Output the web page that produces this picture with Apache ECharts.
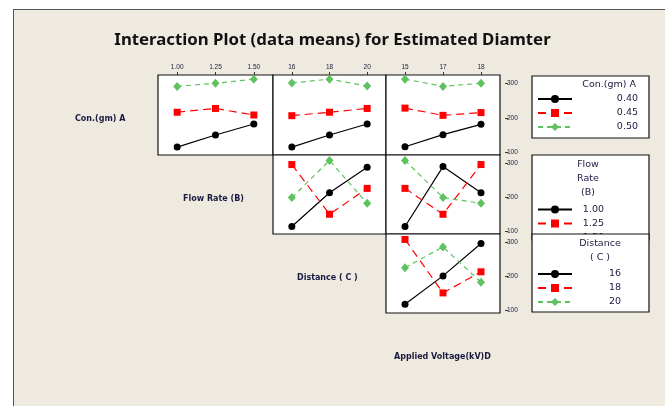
<!DOCTYPE html>
<html>
<head>
<meta charset="utf-8">
<script src="https://cdn.jsdelivr.net/npm/echarts@6/dist/echarts.min.js"></script>
<style>
html,body{margin:0;padding:0;background:#fff;width:665px;height:406px;overflow:hidden;}
#frame{position:absolute;left:13px;top:9px;width:700px;height:450px;background:#EEEAE0;border:1.5px solid #555;}
#chart{position:absolute;left:0;top:0;width:665px;height:406px;}
</style>
</head>
<body>
<div id="frame"></div>
<div id="chart"></div>
<script>
// Factor levels (x-axis categories)
const levelsB = ['1.00', '1.25', '1.50'];
const levelsC = ['16', '18', '20'];
const levelsD = ['15', '17', '18'];
// Trace (legend) names
const namesA = ['0.40', '0.45', '0.50'];
const namesB = ['1.00', '1.25', '1.50'];
const namesC = ['16', '18', '20'];
const yTicks = [100, 200, 300];

// Means: A x B
const ab_040 = [116, 151, 183];
const ab_045 = [217, 228, 209];
const ab_050 = [292, 301, 313];
// A x C
const ac_040 = [116, 151, 183];
const ac_045 = [207, 217, 228];
const ac_050 = [302, 313, 293];
// A x D
const ad_040 = [117, 152, 182];
const ad_045 = [229, 208, 216];
const ad_050 = [313, 292, 301];
// B x C
const bc_100 = [115, 214, 289];
const bc_125 = [297, 151, 227];
const bc_150 = [200, 309, 183];
// B x D
const bd_100 = [115, 291, 214];
const bd_125 = [227, 151, 297];
const bd_150 = [309, 200, 183];
// C x D
const cd_16 = [119, 202, 297];
const cd_18 = [309, 152, 214];
const cd_20 = [226, 287, 183];

const TXT = '#1a1a40';
const styles = [
  {color: '#000000', type: 'solid', symbol: 'circle', size: 7},
  {color: '#ff0000', type: [8, 5], symbol: 'rect', size: 7},
  {color: '#5EC25E', type: [5, 4], symbol: 'diamond', size: [8, 9]}
];

// panels: grid rect, x levels, traces, names, show top labels, show right labels
const panels = [
  {l: 158, t: 75, w: 115, h: 80, x: levelsB, d: [ab_040, ab_045, ab_050], n: namesA, top: true, right: false},
  {l: 273, t: 75, w: 113, h: 80, x: levelsC, d: [ac_040, ac_045, ac_050], n: namesA, top: true, right: false},
  {l: 386, t: 75, w: 114, h: 80, x: levelsD, d: [ad_040, ad_045, ad_050], n: namesA, top: true, right: true},
  {l: 273, t: 155, w: 113, h: 79, x: levelsC, d: [bc_100, bc_125, bc_150], n: namesB, top: false, right: false},
  {l: 386, t: 155, w: 114, h: 79, x: levelsD, d: [bd_100, bd_125, bd_150], n: namesB, top: false, right: true},
  {l: 386, t: 234, w: 114, h: 79, x: levelsD, d: [cd_16, cd_18, cd_20], n: namesC, top: false, right: true}
];

const grid = [], xAxis = [], yAxis = [], series = [];
panels.forEach((p, i) => {
  grid.push({left: p.l, top: p.t, width: p.w, height: p.h, show: true, backgroundColor: '#ffffff', borderColor: '#111', borderWidth: 1.2});
  xAxis.push({
    gridIndex: i, type: 'category', data: p.x, boundaryGap: true, position: 'top',
    axisLine: {show: false},
    axisTick: {show: p.top, alignWithLabel: true, length: 3, lineStyle: {color: '#333'}},
    axisLabel: {show: p.top, margin: 4, fontSize: 6.5, fontFamily: 'Liberation Sans', color: TXT}
  });
  yAxis.push({
    gridIndex: i, type: 'value', min: 93, max: 325, position: 'right', offset: 5,
    splitLine: {show: false},
    axisLine: {show: false},
    axisTick: {show: p.right, length: 3, customValues: yTicks, lineStyle: {color: '#333'}},
    axisLabel: {show: p.right, customValues: yTicks, margin: 2, fontSize: 6.5, fontFamily: 'Liberation Sans', color: TXT}
  });
  p.d.forEach((vals, k) => {
    const s = styles[k];
    series.push({
      type: 'line', name: p.n[k], xAxisIndex: i, yAxisIndex: i, data: vals,
      symbol: s.symbol, symbolSize: s.size, showSymbol: true,
      lineStyle: {color: s.color, width: 1.2, type: s.type},
      itemStyle: {color: s.color},
      emphasis: {disabled: true}, animation: false, z: 3 + k
    });
  });
});

function mkLegend(names, top, w, align, z) {
  return {
    data: names, orient: 'vertical', left: 537, top: top, padding: 0,
    itemWidth: 34, itemHeight: 10, itemGap: 4, selectedMode: false, z: z,
    formatter: n => '{v|' + n + '}',
    textStyle: {
      fontFamily: 'DejaVu Sans', fontSize: 9.5, color: TXT,
      rich: {v: {width: w, align: align, fontSize: 9.5, fontFamily: 'DejaVu Sans', color: TXT, lineHeight: 10}}
    }
  };
}

const legendTxt = (x, y, text, align, z) => ({
  type: 'text', x: x, y: y, z: z,
  style: {text: text, fontFamily: 'DejaVu Sans', fontSize: 9.5, fill: TXT, textAlign: align, textVerticalAlign: 'middle'}
});
const rowTxt = (x, y, text) => ({
  type: 'text', x: x, y: y, z: 5,
  style: {text: text, fontFamily: 'DejaVu Sans', fontWeight: 'bold', fontSize: 8, fill: TXT, textAlign: 'left', textVerticalAlign: 'middle'}
});

const option = {
  backgroundColor: 'transparent',
  animation: false,
  title: {
    text: 'Interaction Plot (data means) for Estimated Diamter',
    left: 'center', top: 27,
    textStyle: {fontFamily: 'Noto Sans', fontWeight: 'bold', fontSize: 16.8, color: '#111'}
  },
  grid, xAxis, yAxis, series,
  legend: [
    mkLegend(namesA, 94, 61, 'right', 6),
    mkLegend(namesB, 204.5, 27, 'right', 6),
    mkLegend(namesC, 269, 44, 'right', 30)
  ],
  graphic: [
    {type: 'rect', z: 2, shape: {x: 532, y: 76, width: 117, height: 62}, style: {fill: '#fff', stroke: '#111', lineWidth: 1.2}},
    {type: 'rect', z: 2, shape: {x: 532, y: 155, width: 117, height: 85}, style: {fill: '#fff', stroke: '#111', lineWidth: 1.2}},
    {type: 'rect', z: 20, shape: {x: 532, y: 234, width: 117, height: 78}, style: {fill: '#fff', stroke: '#111', lineWidth: 1.2}},
    legendTxt(636, 85, 'Con.(gm) A', 'right', 7),
    legendTxt(588, 165, 'Flow', 'center', 7),
    legendTxt(588, 179, 'Rate', 'center', 7),
    legendTxt(588, 193, '(B)', 'center', 7),
    legendTxt(600, 244, 'Distance', 'center', 31),
    legendTxt(600, 258, '( C )', 'center', 31),
    rowTxt(75, 119, 'Con.(gm) A'),
    rowTxt(183, 199, 'Flow Rate (B)'),
    rowTxt(297, 277.5, 'Distance ( C )'),
    rowTxt(394, 357, 'Applied Voltage(kV)D')
  ]
};

const chart = echarts.init(document.getElementById('chart'), null, {renderer: 'canvas'});
chart.setOption(option);
</script>
</body>
</html>
